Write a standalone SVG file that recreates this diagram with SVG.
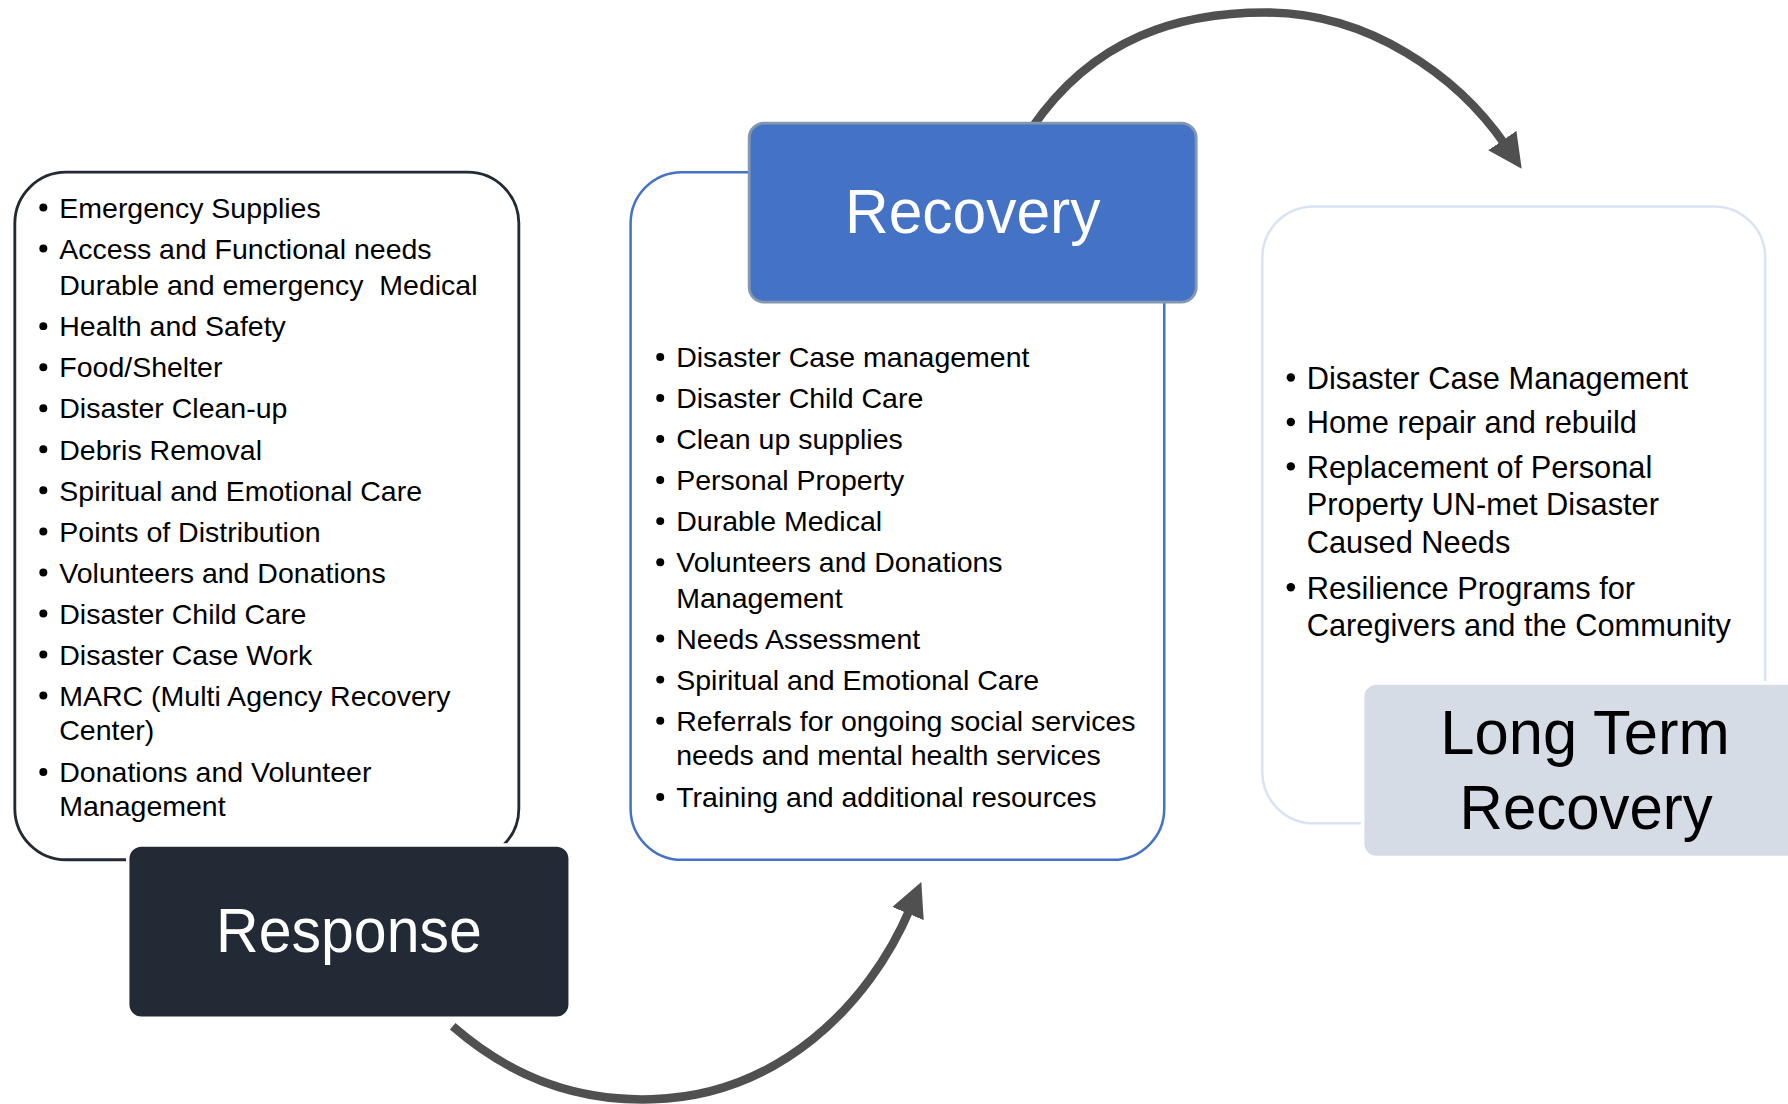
<svg xmlns="http://www.w3.org/2000/svg" width="1788" height="1104" viewBox="0 0 1788 1104">
<defs>
<style>
.t{font-family:'Liberation Sans',Arial,sans-serif;font-size:25px;fill:#000}
.tr{font-family:'Liberation Sans',Arial,sans-serif;font-size:27px;fill:#000}
.title{font-family:'Liberation Sans',Arial,sans-serif;font-size:56px;text-anchor:middle}
.b{fill:#000}
.conn{fill:none;stroke:#505050;stroke-width:7.5}
</style>
<marker id="ah" viewBox="0 0 4 4" refX="0.6" refY="2" markerWidth="4" markerHeight="4" markerUnits="strokeWidth" orient="auto">
<path d="M0,0 L4,2 L0,4 z" fill="#505050"/>
</marker>
</defs>
<rect width="1788" height="1104" fill="#fff"/>
<g transform="scale(1.14031)">
<g id="connectors">
<path class="conn" d="M905 112 C960 32, 1035 11, 1110 11 C1200 11, 1278 66, 1320 127" marker-end="url(#ah)"/>
<path class="conn" d="M397 900 C452 948, 510 966, 572 964 C682 961, 762 882, 798 797" marker-end="url(#ah)"/>
</g>
<g id="response-list">
<rect x="13" y="151" width="442" height="603" rx="45" fill="#fff" stroke="#222a35" stroke-width="2.5"/>
<g class="b">
<circle cx="38" cy="182" r="3.5"/><circle cx="38" cy="218" r="3.5"/><circle cx="38" cy="286" r="3.5"/>
<circle cx="38" cy="322" r="3.5"/><circle cx="38" cy="358" r="3.5"/><circle cx="38" cy="394" r="3.5"/>
<circle cx="38" cy="430" r="3.5"/><circle cx="38" cy="466" r="3.5"/><circle cx="38" cy="502" r="3.5"/>
<circle cx="38" cy="538" r="3.5"/><circle cx="38" cy="574" r="3.5"/><circle cx="38" cy="610" r="3.5"/>
<circle cx="38" cy="677" r="3.5"/>
</g>
<text class="t" x="52" y="191">Emergency Supplies</text>
<text class="t" x="52" y="227">Access and Functional needs</text>
<text class="t" x="52" y="259" xml:space="preserve">Durable and emergency  Medical</text>
<text class="t" x="52" y="295">Health and Safety</text>
<text class="t" x="52" y="331">Food/Shelter</text>
<text class="t" x="52" y="367">Disaster Clean-up</text>
<text class="t" x="52" y="403">Debris Removal</text>
<text class="t" x="52" y="439">Spiritual and Emotional Care</text>
<text class="t" x="52" y="475">Points of Distribution</text>
<text class="t" x="52" y="511">Volunteers and Donations</text>
<text class="t" x="52" y="547">Disaster Child Care</text>
<text class="t" x="52" y="583">Disaster Case Work</text>
<text class="t" x="52" y="619">MARC (Multi Agency Recovery</text>
<text class="t" x="52" y="649">Center)</text>
<text class="t" x="52" y="686">Donations and Volunteer</text>
<text class="t" x="52" y="716">Management</text>
</g>
<g id="response">
<rect x="112" y="741" width="388" height="152" rx="12" fill="#222a35" stroke="#fff" stroke-width="3"/>
<text class="title" x="306" y="835" fill="#fff" textLength="233" lengthAdjust="spacingAndGlyphs">Response</text>
</g>
<g id="recovery-list">
<rect x="553" y="151" width="468" height="603" rx="45" fill="#fff" stroke="#4472c4" stroke-width="2.2"/>
<g class="b">
<circle cx="579" cy="313" r="3.5"/><circle cx="579" cy="349" r="3.5"/><circle cx="579" cy="385" r="3.5"/>
<circle cx="579" cy="421" r="3.5"/><circle cx="579" cy="457" r="3.5"/><circle cx="579" cy="493" r="3.5"/>
<circle cx="579" cy="560" r="3.5"/><circle cx="579" cy="596" r="3.5"/><circle cx="579" cy="632" r="3.5"/>
<circle cx="579" cy="699" r="3.5"/>
</g>
<text class="t" x="593" y="322">Disaster Case management</text>
<text class="t" x="593" y="358">Disaster Child Care</text>
<text class="t" x="593" y="394">Clean up supplies</text>
<text class="t" x="593" y="430">Personal Property</text>
<text class="t" x="593" y="466">Durable Medical</text>
<text class="t" x="593" y="502">Volunteers and Donations</text>
<text class="t" x="593" y="533">Management</text>
<text class="t" x="593" y="569">Needs Assessment</text>
<text class="t" x="593" y="605">Spiritual and Emotional Care</text>
<text class="t" x="593" y="641">Referrals for ongoing social services</text>
<text class="t" x="593" y="671">needs and mental health services</text>
<text class="t" x="593" y="708">Training and additional resources</text>
</g>
<g id="recovery">
<rect x="657" y="108" width="392" height="157" rx="13" fill="#4472c4" stroke="#8497b0" stroke-width="2.5"/>
<text class="title" x="853" y="204" fill="#fff" textLength="224" lengthAdjust="spacingAndGlyphs">Recovery</text>
</g>
<g id="long-term-list">
<rect x="1107" y="181" width="441" height="541" rx="45" fill="#fff" stroke="#dae3f3" stroke-width="2.2"/>
<g class="b">
<circle cx="1132" cy="331" r="3.7"/><circle cx="1132" cy="370" r="3.7"/><circle cx="1132" cy="409" r="3.7"/>
<circle cx="1132" cy="515" r="3.7"/>
</g>
<text class="tr" x="1146" y="341">Disaster Case Management</text>
<text class="tr" x="1146" y="380">Home repair and rebuild</text>
<text class="tr" x="1146" y="419">Replacement of Personal</text>
<text class="tr" x="1146" y="452">Property UN-met Disaster</text>
<text class="tr" x="1146" y="485">Caused Needs</text>
<text class="tr" x="1146" y="525">Resilience Programs for</text>
<text class="tr" x="1146" y="558">Caregivers and the Community</text>
</g>
<g id="long-term-recovery">
<rect x="1195" y="599" width="392" height="153" rx="12" fill="#d6dce5" stroke="#fff" stroke-width="3"/>
<text class="title" x="1390" y="661" fill="#000" textLength="254" lengthAdjust="spacingAndGlyphs">Long Term</text>
<text class="title" x="1391" y="727" fill="#000" textLength="222" lengthAdjust="spacingAndGlyphs">Recovery</text>
</g>
</g>
</svg>
